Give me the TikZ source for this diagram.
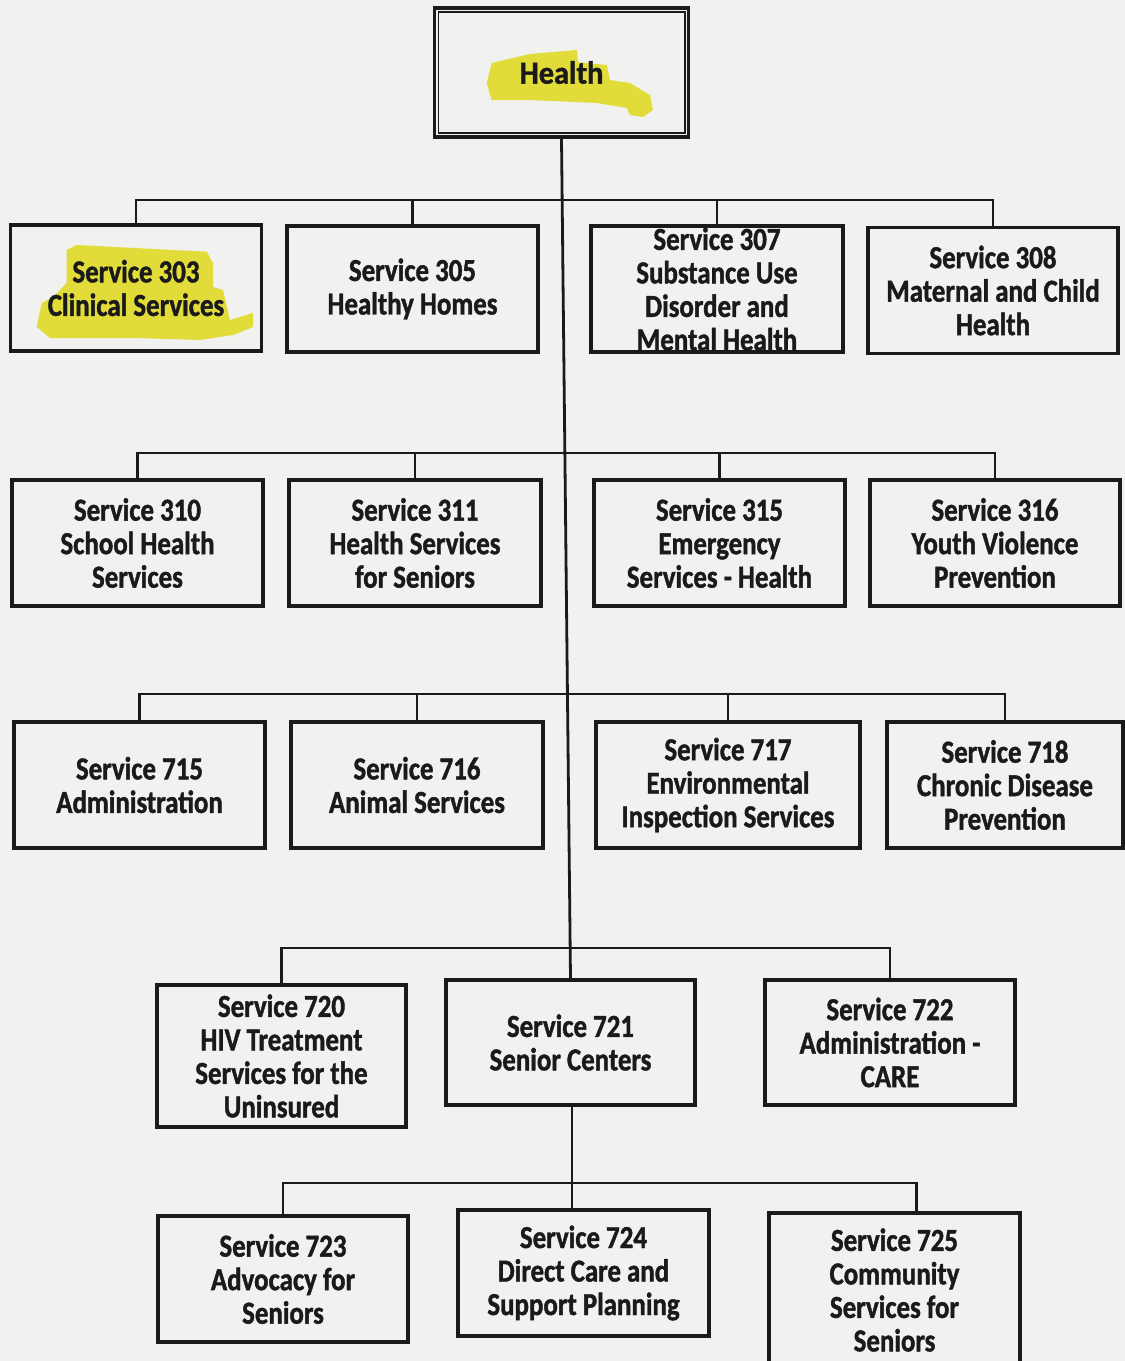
\documentclass[tikz,border=0pt]{standalone}
\usepackage{fontspec}
\setmainfont{Carlito}[BoldFeatures={FakeBold=1.3, FakeStretch=0.84}]
\newfontfamily\headfont{Carlito}[BoldFeatures={FakeBold=1.3, FakeStretch=0.95}]
\definecolor{paper}{HTML}{F1F1F0}
\definecolor{ink}{HTML}{1A1A1A}
\definecolor{hilite}{HTML}{E2DC3A}
\begin{document}
\begin{tikzpicture}[x=1pt,y=-1pt,
  unit/.style={draw=ink, text=ink, line width=3.2pt, inner sep=0pt, align=center,
    minimum width=251, minimum height=126,
    font=\fontsize{32}{33.5}\selectfont\bfseries},
  link/.style={draw=ink, line width=2.8pt}]
\useasboundingbox (0,0) rectangle (1125,1361);
\clip (0,0) rectangle (1125,1361);
\fill[paper] (0,0) rectangle (1125,1361);

% highlights
\fill[hilite] (491.7,63) -- (530,54) -- (576.7,50) -- (578,62) -- (606.7,65) -- (610,80) -- (630,83) -- (650,95) -- (653,110) -- (643,117) -- (630,115) -- (626.7,108) -- (596.7,103) -- (530,100) -- (491.7,100) -- (486.7,83) -- cycle;
\fill[hilite] (66.7,250) -- (76.7,245) -- (206.7,251.7) -- (213,263) -- (213,287) -- (223,290) -- (230,320) -- (253,313) -- (253,327) -- (233,335) -- (200,340) -- (133,338) -- (50,338) -- (36.7,327) -- (41.7,303) -- (53,297) -- (66.7,283) -- cycle;

% top
\node[unit, minimum width=254, minimum height=129, font=\headfont\fontsize{32}{33.5}\selectfont\bfseries] (health) at (561.5,72.5) {Health};
\draw[draw=ink, line width=1.8pt] ([xshift=5.5pt,yshift=-5.5pt]health.north west) rectangle ([xshift=-5.5pt,yshift=5.5pt]health.south east);

% row 1
\node[unit] (s303) at (136,288) {Service 303\\Clinical Services};
\node[unit] (s305) at (412.5,289) {Service 305\\Healthy Homes};
\node[unit, minimum width=252] (s307) at (717,289) {Service 307\\Substance Use\\Disorder and\\Mental Health};
\node[unit, minimum width=250] (s308) at (993,290.5) {Service 308\\Maternal and Child\\Health};

% row 2
\node[unit] (s310) at (137.5,543) {Service 310\\School Health\\Services};
\node[unit, minimum width=252] (s311) at (415,543) {Service 311\\Health Services\\for Seniors};
\node[unit] (s315) at (719.5,543) {Service 315\\Emergency\\Services - Health};
\node[unit, minimum width=250] (s316) at (995,543) {Service 316\\Youth Violence\\Prevention};

% row 3
\node[unit] (s715) at (139.5,785) {Service 715\\Administration};
\node[unit, minimum width=252] (s716) at (417,785) {Service 716\\Animal Services};
\node[unit, minimum width=264] (s717) at (728,785) {Service 717\\Environmental\\Inspection Services};
\node[unit, minimum width=236] (s718) at (1005,785) {Service 718\\Chronic Disease\\Prevention};

% row 4
\node[unit, minimum width=249, minimum height=142] (s720) at (281.5,1056) {Service 720\\HIV Treatment\\Services for the\\Uninsured};
\node[unit, minimum width=249, minimum height=125] (s721) at (570.5,1042.5) {Service 721\\Senior Centers};
\node[unit, minimum width=250, minimum height=125] (s722) at (890,1042.5) {Service 722\\Administration -\\CARE};

% row 5
\node[unit, minimum width=250] (s723) at (283,1279) {Service 723\\Advocacy for\\Seniors};
\node[unit] (s724) at (583.5,1273) {Service 724\\Direct Care and\\Support Planning};
\node[unit, minimum height=154] (s725) at (894.5,1290) {Service 725\\Community\\Services for\\Seniors};

% connectors
\coordinate (b1) at (565,200);
\coordinate (b2) at (566,453);
\coordinate (b3) at (568,694);
\coordinate (b4) at (570,948);
\coordinate (b5) at (572,1183);

\draw[link] (health.south) -- (s721.north);

\draw[link] (s303.north) |- (b1) -| (s308.north);
\draw[link] (s305.north) -- (s305.north |- b1);
\draw[link] (s307.north) -- (s307.north |- b1);

\draw[link] (s310.north) |- (b2) -| (s316.north);
\draw[link] (s311.north) -- (s311.north |- b2);
\draw[link] (s315.north) -- (s315.north |- b2);

\draw[link] (s715.north) |- (b3) -| (s718.north);
\draw[link] (s716.north) -- (s716.north |- b3);
\draw[link] (s717.north) -- (s717.north |- b3);

\draw[link] (s720.north) |- (b4) -| (s722.north);

\draw[link] (s721.south -| b5) -- (s724.north -| b5);
\draw[link] (s723.north) |- (b5) -| ([xshift=22pt]s725.north);
\end{tikzpicture}
\end{document}
